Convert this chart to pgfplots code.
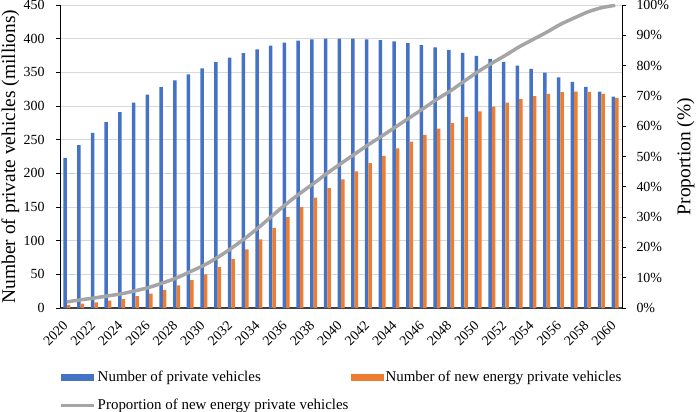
\documentclass[border=0pt]{standalone}
\usepackage{fontspec}
\setmainfont{Liberation Serif}
\usepackage{graphicx}
\usepackage{pgfplots}
\usepackage{pgfplotstable}
\pgfplotsset{compat=1.18}
\definecolor{cblue}{HTML}{4472C4}
\definecolor{corange}{HTML}{ED7D31}
\definecolor{cgray}{HTML}{A5A5A5}
\definecolor{cgrid}{HTML}{D9D9D9}
\pgfplotstableread{
year total nev prop
2020 223 4.5 2.0
2021 242 6.5 2.7
2022 260 8.5 3.3
2023 276 11 4.0
2024 291 13.5 4.7
2025 305 17.5 5.7
2026 317 21.5 6.8
2027 328 27 8.3
2028 338 33.5 9.9
2029 347 41.5 12.0
2030 356 50 14.1
2031 365 61 16.7
2032 372 73 19.7
2033 378.5 87 23.0
2034 384 102 26.6
2035 389.5 119 30.5
2036 394 135 34.3
2037 397 150 37.8
2038 399 164 41.1
2039 400 178 44.5
2040 400 191 47.7
2041 400 203 50.8
2042 399 215 53.9
2043 398 226 56.8
2044 396 237 59.8
2045 393.5 247 62.8
2046 390.5 257 65.8
2047 387 266.5 68.9
2048 383.5 275 71.7
2049 379 284 74.9
2050 374.5 292 78.0
2051 370 299 80.8
2052 365.5 305 83.4
2053 360 310.5 86.2
2054 355 314.5 88.6
2055 349.5 318 91.0
2056 342.5 320.5 93.6
2057 336 321.5 95.7
2058 328.5 321 97.7
2059 321.5 318 99.1
2060 314 312 99.9
}\datatable
\begin{document}
\begin{tikzpicture}
\path[use as bounding box] (-60bp,-104bp) rectangle (639bp,308bp);
\begin{axis}[
  scale only axis, width=562bp, height=303bp,
  xmin=2019.5, xmax=2060.5, ymin=0, ymax=450,
  axis x line*=bottom, axis y line*=left,
  x axis line style={draw=black!75, line width=1.2bp},
  y axis line style={draw=black, line width=0.8bp},
  ybar=0pt, bar width=3.5bp,
  xtick={2020,2022,...,2060},
  ytick={0,50,...,450},
  x tick style={draw=none},
  y tick style={draw=black, line width=0.6bp},
  ytick align=outside, major tick length=4bp,
  ymajorgrids, grid style={draw=cgrid, line width=0.8bp},
  /pgf/number format/assume math mode=true,
  /pgf/number format/1000 sep={},
  tick label style={font=\fontsize{14}{16}\selectfont},
  xticklabel={\rotatebox{45}{\pgfmathprintnumber[fixed,precision=0]{\tick}}},
  xticklabel style={anchor=north east, inner sep=0bp, yshift=-8bp, xshift=2bp},
  yticklabel style={xshift=-8bp},
  ylabel={Number of private vehicles (millions)},
  ylabel style={font=\fontsize{19.5}{22}\selectfont, yshift=-2.5bp},
  legend columns=2,
  legend cell align=left,
  legend style={draw=none, fill=none, at={(-0.007,-0.195)}, anchor=north west,
    font=\fontsize{15}{18}\selectfont,
    /tikz/every even column/.append style={column sep=0bp},
    /tikz/column 2/.style={column sep=104bp},
    row sep=12bp},
]
\addplot[fill=cblue, draw=none, legend image code/.code={\fill[cblue] (0bp,-3.5bp) rectangle (33bp,3.5bp);}] table[x=year,y=total]{\datatable};
\addlegendentry{Number of private vehicles}
\addplot[fill=corange, draw=none, legend image code/.code={\fill[corange] (0bp,-3.5bp) rectangle (33bp,3.5bp);}] table[x=year,y=nev]{\datatable};
\addlegendentry{Number of new energy private vehicles}
\addlegendimage{legend image code/.code={\draw[cgray, line width=3.5bp] (0bp,0) -- (33bp,0);}}
\addlegendentry{Proportion of new energy private vehicles}
\end{axis}
\begin{axis}[
  scale only axis, width=562bp, height=303bp,
  xmin=2019.5, xmax=2060.5, ymin=0, ymax=100,
  axis y line*=right, hide x axis,
  y axis line style={draw=black, line width=0.8bp},
  ytick={0,10,...,100},
  y tick style={draw=black, line width=0.6bp},
  ytick align=outside, major tick length=4bp,
  /pgf/number format/assume math mode=true,
  yticklabel={\pgfmathprintnumber{\tick}\%},
  tick label style={font=\fontsize{14}{16}\selectfont},
  yticklabel style={xshift=7bp},
  ylabel={Proportion (\%)},
  ylabel style={font=\fontsize{19.5}{22}\selectfont, yshift=-1bp},
]
\addplot[cgray, line width=3.5bp, smooth, no marks] table[x=year,y=prop]{\datatable};
\end{axis}
\end{tikzpicture}
\end{document}
